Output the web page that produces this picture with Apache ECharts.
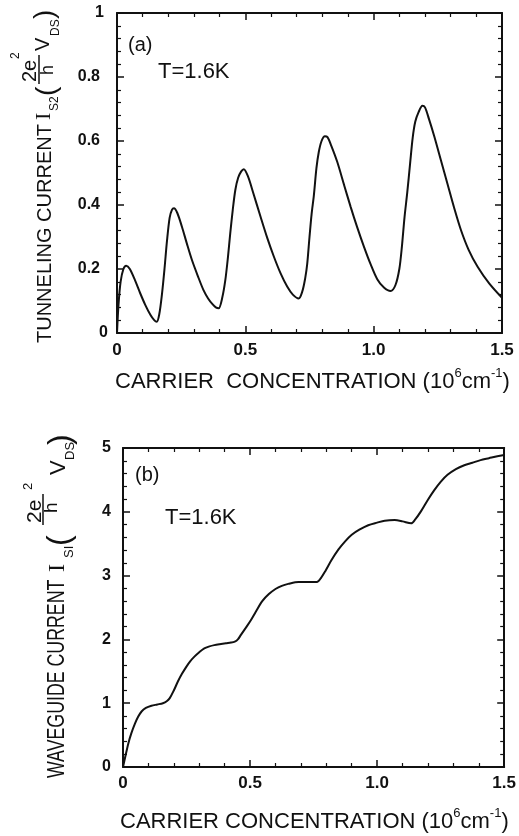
<!DOCTYPE html>
<html>
<head>
<meta charset="utf-8">
<script src="https://cdn.jsdelivr.net/npm/echarts@6/dist/echarts.min.js"></script>
<style>
  html, body { margin: 0; padding: 0; background: #fff; }
  #chart { width: 519px; height: 836px; }
</style>
</head>
<body>
<div id="chart"></div>
<script>
// (a) tunneling current vs carrier concentration
const aConc = [0, 0.006, 0.014, 0.025, 0.036, 0.05, 0.07, 0.09, 0.11, 0.13, 0.145, 0.155, 0.165, 0.175, 0.185, 0.195, 0.205, 0.214, 0.222, 0.235, 0.253, 0.272, 0.292, 0.315, 0.337, 0.355, 0.372, 0.385, 0.396, 0.41, 0.422, 0.432, 0.441, 0.451, 0.461, 0.472, 0.484, 0.494, 0.51, 0.53, 0.559, 0.585, 0.611, 0.637, 0.663, 0.685, 0.708, 0.722, 0.733, 0.741, 0.75, 0.758, 0.767, 0.777, 0.786, 0.797, 0.81, 0.82, 0.835, 0.858, 0.885, 0.91, 0.936, 0.962, 0.988, 1.014, 1.04, 1.066, 1.085, 1.1, 1.11, 1.12, 1.131, 1.142, 1.152, 1.162, 1.175, 1.19, 1.2, 1.215, 1.236, 1.262, 1.288, 1.314, 1.34, 1.37, 1.405, 1.45, 1.5];
const aCurrent = [0, 0.09, 0.16, 0.2, 0.21, 0.2, 0.165, 0.125, 0.088, 0.057, 0.04, 0.035, 0.06, 0.12, 0.2, 0.29, 0.36, 0.385, 0.39, 0.375, 0.332, 0.28, 0.228, 0.178, 0.134, 0.108, 0.09, 0.08, 0.077, 0.11, 0.165, 0.235, 0.31, 0.385, 0.447, 0.485, 0.505, 0.512, 0.49, 0.44, 0.364, 0.298, 0.239, 0.187, 0.145, 0.12, 0.108, 0.13, 0.17, 0.215, 0.3, 0.37, 0.43, 0.515, 0.565, 0.6, 0.615, 0.612, 0.585, 0.535, 0.462, 0.395, 0.33, 0.27, 0.215, 0.168, 0.142, 0.131, 0.15, 0.2, 0.27, 0.36, 0.44, 0.53, 0.61, 0.66, 0.69, 0.71, 0.705, 0.67, 0.615, 0.54, 0.465, 0.39, 0.322, 0.26, 0.207, 0.155, 0.11];

// (b) waveguide current vs carrier concentration
const bConc = [0, 0.01, 0.021, 0.033, 0.047, 0.06, 0.073, 0.09, 0.112, 0.135, 0.157, 0.172, 0.184, 0.2, 0.216, 0.232, 0.249, 0.265, 0.281, 0.3, 0.32, 0.34, 0.359, 0.38, 0.405, 0.425, 0.44, 0.452, 0.464, 0.483, 0.503, 0.522, 0.548, 0.574, 0.6, 0.625, 0.65, 0.691, 0.73, 0.763, 0.78, 0.796, 0.82, 0.848, 0.875, 0.9, 0.93, 0.965, 1.0, 1.03, 1.069, 1.1, 1.134, 1.15, 1.173, 1.2, 1.225, 1.25, 1.277, 1.31, 1.343, 1.375, 1.407, 1.44, 1.473, 1.5];
const bCurrent = [0, 0.18, 0.37, 0.53, 0.68, 0.79, 0.87, 0.925, 0.96, 0.98, 1.0, 1.03, 1.08, 1.2, 1.34, 1.46, 1.57, 1.66, 1.73, 1.8, 1.86, 1.89, 1.91, 1.925, 1.94, 1.95, 1.965, 2.0, 2.07, 2.18, 2.3, 2.43, 2.6, 2.71, 2.79, 2.84, 2.87, 2.9, 2.9, 2.9, 2.97, 3.07, 3.24, 3.41, 3.54, 3.64, 3.72, 3.79, 3.83, 3.86, 3.87, 3.85, 3.82, 3.88, 4.01, 4.19, 4.34, 4.47, 4.58, 4.67, 4.73, 4.77, 4.81, 4.84, 4.87, 4.89];

// tick labels
const xTickLabels = ['0', '0.5', '1.0', '1.5'];
const aYTickLabels = ['0', '0.2', '0.4', '0.6', '0.8', '1'];
const bYTickLabels = ['0', '1', '2', '3', '4', '5'];

const FONT = '"Liberation Sans", Arial, sans-serif';
const SERIF = '"Liberation Serif", "Times New Roman", serif';
const INK = '#111';

function pairs(xs, ys) { return xs.map((x, i) => [x, ys[i]]); }

function frameAxis(base, extra) {
  return Object.assign({
    axisLine: { show: true, onZero: false, lineStyle: { color: INK, width: 2 } },
    axisTick: { show: true, inside: true, length: 7, lineStyle: { color: INK, width: 1.5 } },
    minorTick: { show: true, splitNumber: 5, length: 4, lineStyle: { color: INK, width: 1.2 } },
    splitLine: { show: false },
    minorSplitLine: { show: false },
    axisLabel: { show: false }
  }, base, extra);
}

const xLabel = (margin) => ({
  show: true, margin: margin, color: INK, fontFamily: FONT, fontWeight: 'bold', fontSize: 17,
  formatter: (v) => xTickLabels[Math.round(v / 0.5)]
});

const option = {
  backgroundColor: '#fff',
  animation: false,
  grid: [
    { left: 117, top: 13, width: 385, height: 320 },
    { left: 123, top: 448, width: 384, height: 319 }
  ],
  xAxis: [
    frameAxis({ type: 'value', gridIndex: 0, position: 'bottom', min: 0, max: 1.5, interval: 0.5 }, { axisLabel: xLabel(9) }),
    frameAxis({ type: 'value', gridIndex: 0, position: 'top', min: 0, max: 1.5, interval: 0.5 }),
    frameAxis({ type: 'value', gridIndex: 1, position: 'bottom', min: 0, max: 1.5, interval: 0.5 }, { axisLabel: xLabel(8) }),
    frameAxis({ type: 'value', gridIndex: 1, position: 'top', min: 0, max: 1.5, interval: 0.5 })
  ],
  yAxis: [
    frameAxis({ type: 'value', gridIndex: 0, position: 'left', min: 0, max: 1, interval: 0.2 }, {
      axisLabel: {
        show: true, margin: 9, color: INK,
        formatter: (v) => {
          const s = aYTickLabels[Math.round(v / 0.2)];
          if (s === '0') return '{z|0}';
          if (s === '1') return '{o|1}';
          return '{d|' + s + '}';
        },
        rich: {
          z: { fontFamily: FONT, fontWeight: 'bold', fontSize: 16, color: INK },
          o: { fontFamily: FONT, fontWeight: 'bold', fontSize: 16, color: INK, padding: [0, 4, 0, 0] },
          d: { fontFamily: FONT, fontWeight: 'bold', fontSize: 16, color: INK, padding: [0, 8, 0, 0] }
        }
      }
    }),
    frameAxis({ type: 'value', gridIndex: 0, position: 'right', min: 0, max: 1, interval: 0.2 }),
    frameAxis({ type: 'value', gridIndex: 1, position: 'left', min: 0, max: 5, interval: 1 }, {
      axisLabel: {
        show: true, margin: 12, color: INK, fontFamily: FONT, fontWeight: 'bold', fontSize: 16,
        formatter: (v) => bYTickLabels[Math.round(v)]
      }
    }),
    frameAxis({ type: 'value', gridIndex: 1, position: 'right', min: 0, max: 5, interval: 1 })
  ],
  series: [
    {
      type: 'line', xAxisIndex: 0, yAxisIndex: 0, data: pairs(aConc, aCurrent),
      showSymbol: false, smooth: 0.3, lineStyle: { color: INK, width: 2 }
    },
    {
      type: 'line', xAxisIndex: 2, yAxisIndex: 2, data: pairs(bConc, bCurrent),
      showSymbol: false, smooth: 0.3, lineStyle: { color: INK, width: 2 }
    }
  ]
};

// text helper for graphic elements
function txt(text, x, y, size, opts) {
  opts = opts || {};
  const el = {
    type: 'text', x: x, y: y,
    style: {
      text: text,
      fontFamily: opts.family || FONT,
      fontSize: size,
      fontWeight: opts.weight || 'normal',
      fill: INK,
      align: opts.align || 'left',
      verticalAlign: 'middle',
      textAlign: opts.align || 'left',
      textVerticalAlign: 'middle'
    }
  };
  if (opts.scaleX) el.scaleX = opts.scaleX;
  return el;
}

function rule(x1, x2, y) {
  return { type: 'line', shape: { x1: x1, y1: y, x2: x2, y2: y }, style: { stroke: INK, lineWidth: 1.5 } };
}

// x-axis title with superscripts
function xTitle(text, x, y) {
  return {
    type: 'text', x: x, y: y,
    style: {
      text: text,
      fill: INK,
      align: 'left', verticalAlign: 'middle',
      textAlign: 'left', textVerticalAlign: 'middle',
      rich: {
        m: { fontFamily: FONT, fontSize: 22, lineHeight: 26, color: INK, verticalAlign: 'bottom' },
        s: { fontFamily: FONT, fontSize: 13, lineHeight: 13, color: INK, verticalAlign: 'top' }
      }
    }
  };
}

// rotated y-axis titles: local x runs upward along the text, local y points to the right
const yTitleA = {
  type: 'group', x: 52, y: 343, rotation: Math.PI / 2,
  children: [
    txt('TUNNELING CURRENT ', 0, -7, 20),
    txt('I', 223, -7.5, 22, { family: SERIF }),
    txt('S2', 232, 3, 12),
    txt('(', 247, -5, 28),
    txt('2e', 261, -22, 20),
    txt('2', 284, -36, 12),
    rule(259, 288, -13),
    txt('h', 268, -3.5, 18),
    txt('V', 292, -9, 20),
    txt('DS', 307, 4, 12),
    txt(')', 324, -7, 28)
  ]
};

const yTitleB = {
  type: 'group', x: 66, y: 778, rotation: Math.PI / 2,
  children: [
    txt('WAVEGUIDE CURRENT ', 0, -8.5, 24, { scaleX: 0.74 }),
    txt('I', 206, -8.5, 24, { family: SERIF }),
    txt('SI', 220, 3, 13),
    txt('(', 232, -6, 32),
    txt('2e', 255, -31, 21),
    txt('2', 288, -38, 13),
    rule(253, 284, -23),
    txt('h', 265, -14, 19),
    txt('V', 303, -7, 22),
    txt('DS', 318, 4, 13),
    txt(')', 333, -5, 32)
  ]
};

option.graphic = [
  txt('(a)', 128, 45, 20),
  txt('T=1.6K', 158, 72, 22),
  txt('(b)', 135, 475, 20),
  txt('T=1.6K', 165, 518, 22),
  xTitle('{m|CARRIER  CONCENTRATION (10}{s|6}{m|cm}{s|-1}{m|)}', 115, 380),
  xTitle('{m|CARRIER CONCENTRATION (10}{s|6}{m|cm}{s|-1}{m|)}', 120, 820),
  yTitleA,
  yTitleB
];

const chart = echarts.init(document.getElementById('chart'), null, { renderer: 'canvas' });
chart.setOption(option);
</script>
</body>
</html>
